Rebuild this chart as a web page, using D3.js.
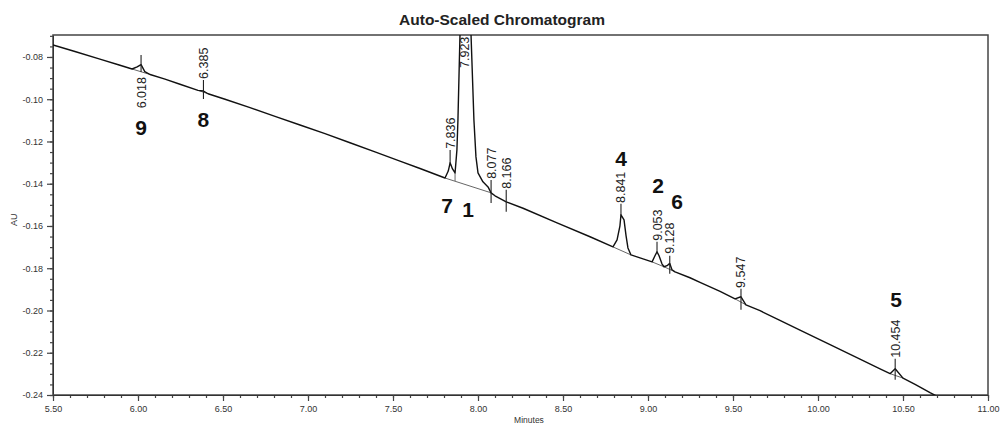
<!DOCTYPE html>
<html>
<head>
<meta charset="utf-8">
<script src="https://cdn.jsdelivr.net/npm/d3@7"></script>
<style>
  body { margin: 0; background: #fff; }
  text { font-family: "Liberation Sans", Arial, sans-serif; }
</style>
</head>
<body>
<div id="chart"></div>
<script>
// trace: [minutes, AU]
const trace = [
  [5.500, -0.0743], [5.629, -0.0774], [5.776, -0.0810], [5.894, -0.0839],
  [5.965, -0.0857], [5.995, -0.0847], [6.018, -0.0836], [6.040, -0.0869],
  [6.071, -0.0883], [6.159, -0.0905], [6.247, -0.0929], [6.353, -0.0958],
  [6.385, -0.0961], [6.412, -0.0974], [6.512, -0.1000], [6.659, -0.1040],
  [6.806, -0.1081], [6.953, -0.1122], [7.100, -0.1163], [7.247, -0.1206],
  [7.394, -0.1249], [7.541, -0.1293], [7.659, -0.1328], [7.806, -0.1373],
  [7.825, -0.1340], [7.836, -0.1301], [7.850, -0.1330], [7.865, -0.1349],
  [7.876, -0.1240], [7.882, -0.1098], [7.894, -0.0696], [7.923, 0.0180],
  [7.959, -0.0696], [7.976, -0.1098], [7.988, -0.1273], [8.000, -0.1349],
  [8.029, -0.1391], [8.059, -0.1415], [8.077, -0.1443], [8.100, -0.1457],
  [8.166, -0.1486], [8.265, -0.1516], [8.465, -0.1585], [8.659, -0.1651],
  [8.794, -0.1699], [8.818, -0.1666], [8.835, -0.1599], [8.841, -0.1547],
  [8.859, -0.1571], [8.871, -0.1647], [8.882, -0.1704], [8.900, -0.1737],
  [8.953, -0.1751], [9.024, -0.1770], [9.041, -0.1741], [9.053, -0.1722],
  [9.065, -0.1741], [9.082, -0.1779], [9.094, -0.1793], [9.112, -0.1788],
  [9.128, -0.1777], [9.141, -0.1807], [9.159, -0.1817], [9.247, -0.1845],
  [9.306, -0.1867], [9.424, -0.1909], [9.512, -0.1945], [9.547, -0.1935],
  [9.576, -0.1973], [9.659, -0.2001], [9.776, -0.2047], [9.894, -0.2093],
  [10.071, -0.2162], [10.247, -0.2230], [10.365, -0.2276], [10.424, -0.2299],
  [10.454, -0.2276], [10.500, -0.2320], [10.571, -0.2350], [10.659, -0.2389],
  [10.750, -0.2427]
];

// integration baselines under the peaks: [t0, au0, t1, au1]
const peakBaselines = [
  [5.965, -0.0857, 6.071, -0.0883],
  [6.353, -0.0958, 6.412, -0.0974],
  [7.806, -0.1373, 8.077, -0.1443],
  [8.794, -0.1699, 8.900, -0.1737],
  [9.024, -0.1770, 9.094, -0.1793],
  [9.094, -0.1793, 9.159, -0.1817],
  [9.512, -0.1945, 9.576, -0.1973],
  [10.424, -0.2299, 10.500, -0.2320]
];
// drop line between peaks 7 and 1: [t, auTop, auBottom]
const dropLines = [[7.865, -0.1349, -0.1387]];

// retention time markers
const peakTimes   = [6.018, 6.385, 7.836, 7.923, 8.077, 8.166, 8.841, 9.053, 9.128, 9.547, 10.454];
const markerTop   = [-0.0791, -0.0909, -0.1240, null, -0.1382, -0.1429, -0.1495, -0.1675, -0.1741, -0.1897, -0.2228];
const markerBot   = [-0.0871, -0.0999, -0.1306, null, -0.1491, -0.1533, -0.1552, -0.1727, -0.1826, -0.1997, -0.2328];
const labelAU     = [-0.0895, -0.0904, -0.1235, -0.0852, -0.1377, -0.1424, -0.1491, -0.1670, -0.1732, -0.1893, -0.2224];
const labelBelow  = [true, false, false, false, false, false, false, false, false, false, false];

// peak numbers
const peakNames = ["9", "8", "7", "1", "4", "2", "6", "5"];
const nameMin   = [6.018, 6.385, 7.818, 7.941, 8.841, 9.059, 9.171, 10.459];
const nameAU    = [-0.1169, -0.1131, -0.1538, -0.1557, -0.1316, -0.1443, -0.1519, -0.1983];

const xTicks = [5.5, 6.0, 6.5, 7.0, 7.5, 8.0, 8.5, 9.0, 9.5, 10.0, 10.5, 11.0];
const yTicks = [-0.24, -0.22, -0.20, -0.18, -0.16, -0.14, -0.12, -0.10, -0.08];
const xMinor = d3.range(55, 111).map(d => d / 10);
const yMinor = d3.range(-48, -13).map(d => d * 0.005);

const margin = { top: 35, right: 12, bottom: 30, left: 53 },
    width = 1000 - margin.left - margin.right,
    height = 425 - margin.top - margin.bottom;

const svg = d3.select("#chart")
    .append("svg")
    .attr("width", 1000)
    .attr("height", 425);

svg.append("text")
    .text("Auto-Scaled Chromatogram")
    .attr("x", 502)
    .attr("y", 25)
    .attr("text-anchor", "middle")
    .attr("font-weight", "bold")
    .attr("font-size", 15.5)
    .attr("fill", "#222");

const g = svg.append("g")
    .attr("transform", `translate(${margin.left},${margin.top})`);

const x = d3.scaleLinear().domain([5.5, 11]).range([0, width]);
const y = d3.scaleLinear().domain([-0.24, -0.0696]).range([height, 0]);

// axes
const axisColor = "#444";
const xMinorAxis = g.append("g")
    .attr("transform", `translate(0,${height})`)
    .call(d3.axisBottom(x).tickValues(xMinor).tickSize(3).tickFormat(""));
const xAxis = g.append("g")
    .attr("transform", `translate(0,${height})`)
    .call(d3.axisBottom(x).tickValues(xTicks).tickSize(6).tickSizeOuter(0).tickFormat(d => d.toFixed(2)));
const yMinorAxis = g.append("g")
    .call(d3.axisLeft(y).tickValues(yMinor).tickSize(3).tickFormat(""));
const yAxis = g.append("g")
    .call(d3.axisLeft(y).tickValues(yTicks).tickSize(6).tickSizeOuter(0).tickFormat(d => d.toFixed(2)));

[xMinorAxis, yMinorAxis].forEach(a => a.select(".domain").remove());
[xMinorAxis, xAxis, yMinorAxis, yAxis].forEach(a => {
    a.selectAll("line").attr("stroke", axisColor).attr("stroke-width", 1.2);
    a.selectAll("text").attr("font-size", 9).attr("fill", "#333")
        .style("font-family", '"Liberation Sans", Arial, sans-serif');
});
xAxis.selectAll("text").attr("dy", "0.9em");
yAxis.selectAll("text").attr("dx", "-0.1em");

// plot frame
g.append("rect")
    .attr("width", width)
    .attr("height", height)
    .attr("fill", "none")
    .attr("stroke", axisColor)
    .attr("stroke-width", 1.5);

svg.append("text")
    .text("AU")
    .attr("transform", `translate(17,${margin.top + y(-0.157)}) rotate(-90)`)
    .attr("text-anchor", "middle")
    .attr("font-size", 9)
    .attr("fill", "#333");

svg.append("text")
    .text("Minutes")
    .attr("x", margin.left + x(8.3))
    .attr("y", 423)
    .attr("text-anchor", "middle")
    .attr("font-size", 8.5)
    .attr("fill", "#333");

// clip for the trace
g.append("clipPath").attr("id", "plot-clip")
    .append("rect").attr("width", width).attr("height", height);
const plot = g.append("g").attr("clip-path", "url(#plot-clip)");

// integration baselines
plot.selectAll(".pbase")
    .data(peakBaselines)
    .join("line")
    .attr("x1", d => x(d[0])).attr("y1", d => y(d[1]))
    .attr("x2", d => x(d[2])).attr("y2", d => y(d[3]))
    .attr("stroke", "#555")
    .attr("stroke-width", 0.9);

plot.selectAll(".drop")
    .data(dropLines)
    .join("line")
    .attr("x1", d => x(d[0])).attr("y1", d => y(d[1]))
    .attr("x2", d => x(d[0])).attr("y2", d => y(d[2]))
    .attr("stroke", "#555")
    .attr("stroke-width", 0.9);

// the trace
plot.append("path")
    .datum(trace)
    .attr("fill", "none")
    .attr("stroke", "#111")
    .attr("stroke-width", 1.4)
    .attr("stroke-linejoin", "round")
    .attr("d", d3.line().x(d => x(d[0])).y(d => y(d[1])));

// retention time markers and labels
const peaks = peakTimes.map((t, i) => ({
    t, top: markerTop[i], bot: markerBot[i], lab: labelAU[i], below: labelBelow[i]
}));

plot.selectAll(".marker")
    .data(peaks.filter(d => d.top !== null))
    .join("line")
    .attr("x1", d => x(d.t)).attr("x2", d => x(d.t))
    .attr("y1", d => y(d.top)).attr("y2", d => y(d.bot))
    .attr("stroke", "#222")
    .attr("stroke-width", 1.1);

g.selectAll(".rt")
    .data(peaks)
    .join("text")
    .text(d => d.t.toFixed(3))
    .attr("transform", d => `translate(${x(d.t)},${y(d.lab)}) rotate(-90)`)
    .attr("text-anchor", d => d.below ? "end" : "start")
    .attr("dy", "0.36em")
    .attr("font-size", 12.5)
    .attr("fill", "#222");

// peak numbers
g.selectAll(".pname")
    .data(peakNames)
    .join("text")
    .text(d => d)
    .attr("x", (d, i) => x(nameMin[i]))
    .attr("y", (d, i) => y(nameAU[i]))
    .attr("text-anchor", "middle")
    .attr("font-weight", "bold")
    .attr("font-size", 21)
    .attr("fill", "#111");
</script>
</body>
</html>
